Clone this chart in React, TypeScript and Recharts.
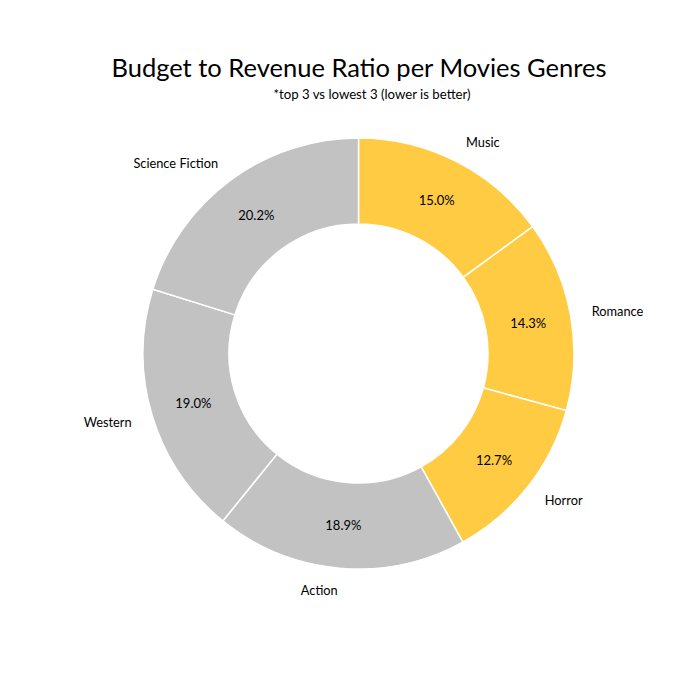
import React from 'react';
import { PieChart, Pie, Cell } from 'recharts';

// slice order clockwise from 12 o'clock
const genres = ['Music', 'Romance', 'Horror', 'Action', 'Western', 'Science Fiction'];
const shares = [15.0, 14.3, 12.7, 18.9, 19.0, 20.2];
const groups = ['low', 'low', 'low', 'top', 'top', 'top'];

const GROUP_COLORS: Record<string, string> = {
  low: '#FFCB42',
  top: '#C2C2C2',
};

const FONT = 'Lato, "Open Sans", sans-serif';
const RADIAN = Math.PI / 180;

const data = genres.map((g, i) => ({ name: g, value: shares[i], group: groups[i] }));

const renderLabel = (props: any) => {
  const { cx, cy, midAngle, innerRadius, outerRadius, value, name } = props;
  const cos = Math.cos(midAngle * RADIAN);
  const sin = Math.sin(midAngle * RADIAN);
  const rIn = (innerRadius + outerRadius) / 2;
  const rOut = outerRadius * 1.1;
  const ox = cx + rOut * cos;
  const oy = cy - rOut * sin;
  return (
    <g>
      <text
        x={cx + rIn * cos}
        y={cy - rIn * sin}
        textAnchor="middle"
        dominantBaseline="central"
        fontSize={13}
        fontFamily={FONT}
        fill="#000"
      >
        {`${value.toFixed(1)}%`}
      </text>
      <text
        x={ox}
        y={oy}
        textAnchor={cos >= 0 ? 'start' : 'end'}
        dominantBaseline="central"
        fontSize={12.8}
        fontFamily={FONT}
        fill="#000"
      >
        {name}
      </text>
    </g>
  );
};

export default function App() {
  return (
    <div style={{ position: 'absolute', left: 0, top: 0, width: 700, height: 700, background: '#fff' }}>
      <div
        style={{
          position: 'absolute',
          top: 50,
          left: 9,
          width: 700,
          textAlign: 'center',
          fontFamily: FONT,
          fontSize: 25.5,
          color: '#000',
          lineHeight: '34px',
        }}
      >
        Budget to Revenue Ratio per Movies Genres
      </div>
      <div
        style={{
          position: 'absolute',
          top: 86,
          left: 22,
          width: 700,
          textAlign: 'center',
          fontFamily: FONT,
          fontSize: 13.2,
          color: '#000',
          lineHeight: '17px',
        }}
      >
        *top 3 vs lowest 3 (lower is better)
      </div>
      <PieChart width={700} height={700} style={{ position: 'absolute', left: 0, top: 0 }}>
        <Pie
          data={data}
          dataKey="value"
          nameKey="name"
          cx={353.5}
          cy={348.5}
          innerRadius={129.5}
          outerRadius={215.5}
          startAngle={90}
          endAngle={-270}
          stroke="#fff"
          strokeWidth={1.5}
          label={renderLabel}
          labelLine={false}
          isAnimationActive={false}
        >
          {data.map((d, i) => (
            <Cell key={`cell-${i}`} fill={GROUP_COLORS[d.group]} />
          ))}
        </Pie>
      </PieChart>
    </div>
  );
}
